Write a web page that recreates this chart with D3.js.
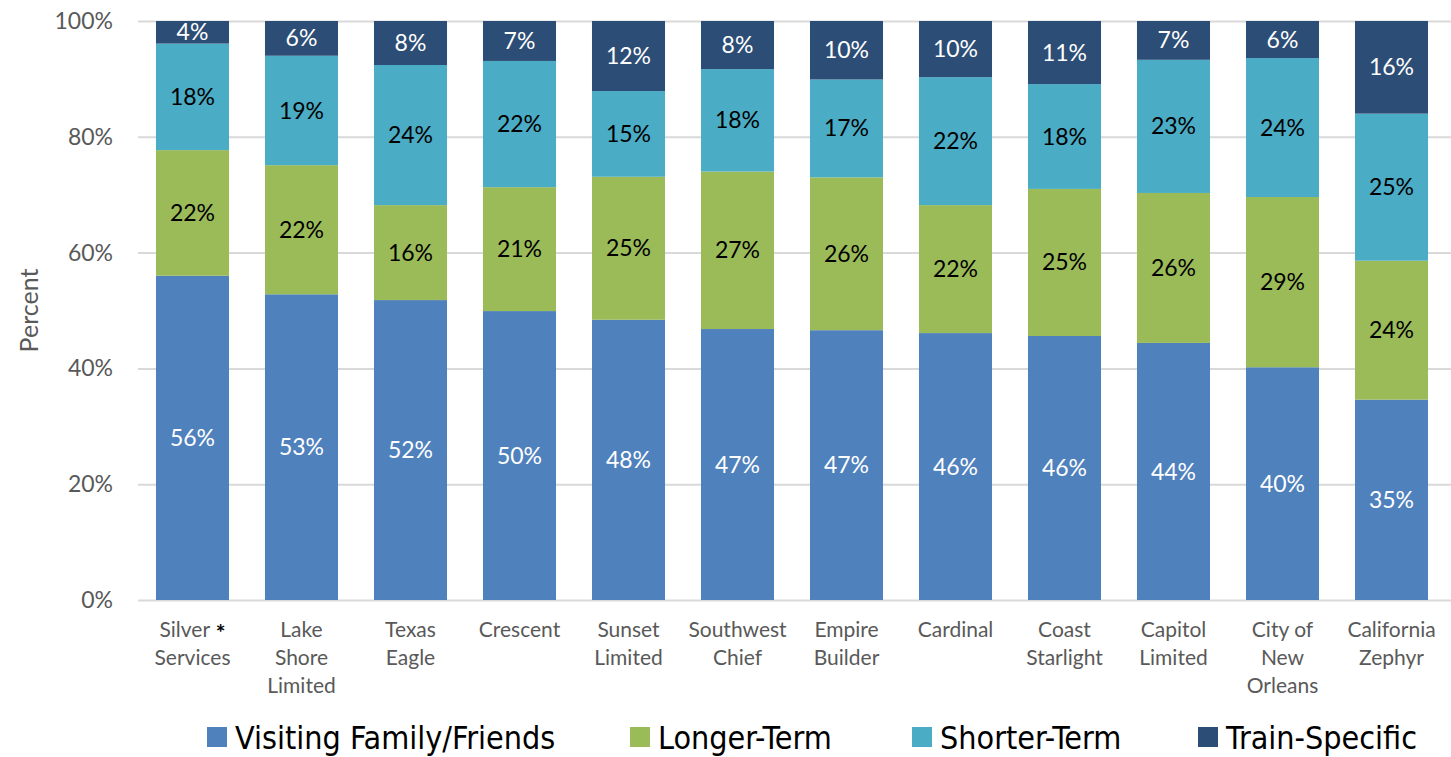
<!DOCTYPE html>
<html>
<head>
<meta charset="utf-8">
<script src="https://cdn.jsdelivr.net/npm/d3@7"></script>
<style>
  body { margin: 0; background: #fff; }
  text { font-family: Lato, "Open Sans", sans-serif; }
  .axis-label { fill: #595959; font-size: 22px; }
  .legend text { font-family: "Liberation Sans Narrow", "DejaVu Sans Condensed", Lato, sans-serif; font-size: 32px; fill: #000; }
</style>
</head>
<body>
<svg width="1451" height="757"></svg>
<script>
var routes = ["Silver Services", "Lake Shore Limited", "Texas Eagle", "Crescent", "Sunset Limited",
  "Southwest Chief", "Empire Builder", "Cardinal", "Coast Starlight", "Capitol Limited",
  "City of New Orleans", "California Zephyr"];

// label lines under each bar
var routeLines = [["Silver", "Services"], ["Lake", "Shore", "Limited"], ["Texas", "Eagle"], ["Crescent"],
  ["Sunset", "Limited"], ["Southwest", "Chief"], ["Empire", "Builder"], ["Cardinal"],
  ["Coast", "Starlight"], ["Capitol", "Limited"], ["City of", "New", "Orleans"], ["California", "Zephyr"]];

var keys = ["Visiting Family/Friends", "Longer-Term", "Shorter-Term", "Train-Specific"];

var visiting = [56.0, 52.8, 51.8, 49.9, 48.4, 46.8, 46.6, 46.1, 45.6, 44.4, 40.2, 34.6];
var longer   = [21.7, 22.3, 16.4, 21.4, 24.7, 27.2, 26.4, 22.1, 25.4, 25.9, 29.4, 24.0];
var shorter  = [18.4, 18.9, 24.2, 21.8, 14.8, 17.7, 16.9, 22.1, 18.1, 23.0, 24.0, 25.4];
var train    = [3.9, 6.0, 7.6, 6.9, 12.1, 8.3, 10.1, 9.7, 10.9, 6.7, 6.4, 16.0];

var yTicks = [0, 20, 40, 60, 80, 100];

var svg = d3.select("svg"),
    margin = {top: 21, right: 5, bottom: 157, left: 138},
    width = svg.attr("width") - margin.left - margin.right,
    height = svg.attr("height") - margin.top - margin.bottom;

var data = routes.map(function(r, i) {
  var d = {route: r, lines: routeLines[i]};
  d[keys[0]] = visiting[i];
  d[keys[1]] = longer[i];
  d[keys[2]] = shorter[i];
  d[keys[3]] = train[i];
  return d;
});

var x = d3.scaleBand().domain(routes).range([0, width]).paddingInner(0.33).paddingOuter(0.165),
    y = d3.scaleLinear().domain([0, 100]).range([height, 0]),
    z = d3.scaleOrdinal().domain(keys).range(["#4f81bd", "#9bbb59", "#4bacc6", "#2c4d75"]),
    labelColor = d3.scaleOrdinal().domain(keys).range(["#fff", "#000", "#000", "#fff"]);

var g = svg.append("g")
    .attr("transform", "translate(" + margin.left + "," + margin.top + ")");

// gridlines
g.selectAll(".grid")
  .data(yTicks)
  .enter().append("line")
    .attr("class", "grid")
    .attr("x1", 0)
    .attr("x2", width + margin.right)
    .attr("y1", function(d) { return y(d) + 0.5; })
    .attr("y2", function(d) { return y(d) + 0.5; })
    .style("stroke", "#d9d9d9")
    .style("stroke-width", 2);

// y tick labels
g.selectAll(".ytick")
  .data(yTicks)
  .enter().append("text")
    .attr("class", "axis-label")
    .attr("x", -25)
    .attr("y", function(d) { return y(d); })
    .attr("dy", "0.35em")
    .style("text-anchor", "end")
    .style("font-size", "23px")
    .text(function(d) { return d + "%"; });

svg.append("text")
    .attr("class", "axis-label")
    .attr("transform", "translate(38," + (margin.top + height / 2) + ") rotate(-90)")
    .style("text-anchor", "middle")
    .style("font-size", "25px")
    .text("Percent");

var stack = d3.stack().keys(keys);
var series = stack(data);

var layer = g.selectAll(".layer")
  .data(series)
  .enter().append("g")
    .attr("class", "layer")
    .style("fill", function(d) { return z(d.key); });

layer.selectAll("rect")
  .data(function(d) { return d; })
  .enter().append("rect")
    .attr("x", function(d) { return x(d.data.route); })
    .attr("y", function(d) { return y(d[1]); })
    .attr("height", function(d) { return y(d[0]) - y(d[1]); })
    .attr("width", x.bandwidth());

// value labels
layer.selectAll("text")
  .data(function(d) { d.forEach(function(p) { p.key = d.key; }); return d; })
  .enter().append("text")
    .attr("x", function(d) { return x(d.data.route) + x.bandwidth() / 2; })
    .attr("y", function(d) { return (y(d[0]) + y(d[1])) / 2; })
    .attr("dy", "0.35em")
    .style("text-anchor", "middle")
    .style("font-size", "23px")
    .style("fill", function(d) { return labelColor(d.key); })
    .text(function(d) { return Math.round(d[1] - d[0]) + "%"; });

// category labels
var cat = g.selectAll(".cat")
  .data(data)
  .enter().append("text")
    .attr("class", "axis-label cat")
    .style("font-size", "21px")
    .style("text-anchor", "middle")
    .attr("transform", function(d) { return "translate(" + (x(d.route) + x.bandwidth() / 2) + "," + (height + 37) + ")"; });

cat.each(function(d) {
  var t = d3.select(this);
  d.lines.forEach(function(line, i) {
    t.append("tspan")
      .attr("x", 0)
      .attr("y", i * 28)
      .text(line);
    if (d.route == "Silver Services" && i == 0) {
      t.append("tspan").text(" *").attr("dy", 4)
        .style("fill", "#000").style("font-size", "23px").style("font-weight", "bold");
    }
  });
});

// legend
var legend = svg.append("g").attr("class", "legend")
    .attr("transform", "translate(0,737)");

var legendX = [207, 630, 912, 1198];

var item = legend.selectAll("g")
  .data(keys)
  .enter().append("g")
    .attr("transform", function(d, i) { return "translate(" + legendX[i] + ",0)"; });

item.append("rect")
    .attr("x", 0)
    .attr("y", -10)
    .attr("width", 20)
    .attr("height", 20)
    .style("fill", function(d) { return z(d); });

item.append("text")
    .attr("x", 28)
    .attr("dy", "0.36em")
    .text(function(d) { return d; });
</script>
</body>
</html>
